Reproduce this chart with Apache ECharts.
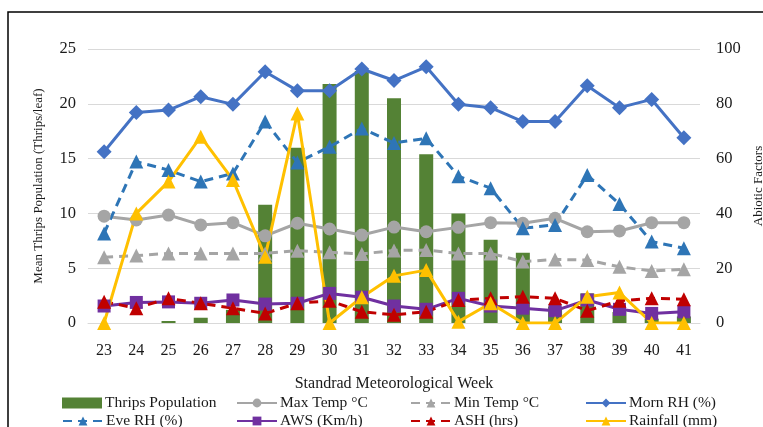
<!DOCTYPE html>
<html><head><meta charset="utf-8">
<script src="https://cdn.jsdelivr.net/npm/echarts@6/dist/echarts.min.js"></script>
<style>html,body{margin:0;padding:0;background:#fff}#c{width:763px;height:427px}</style>
</head><body><div id="c"></div>
<script>
var weeks = ['23','24','25','26','27','28','29','30','31','32','33','34','35','36','37','38','39','40','41'];
var thrips = [0,0,0.18,0.48,1.2,10.8,16.0,21.8,23.0,20.5,15.4,10.0,7.6,6.4,1.5,2.7,1.0,0.4,0.6];
var maxTemp = [39.0,37.6,39.4,35.8,36.6,31.8,36.4,34.3,32.1,35.0,33.3,34.9,36.6,36.4,38.2,33.3,33.6,36.6,36.6];
var minTemp = [24.0,24.6,25.4,25.4,25.4,25.4,26.4,25.8,25.2,26.5,26.6,25.4,25.4,22.4,23.2,23.0,20.5,19.0,19.6];
var mornRH = [62.5,76.8,77.7,82.6,79.8,91.7,84.8,84.8,92.7,88.5,93.5,79.8,78.6,73.5,73.5,86.6,78.6,81.6,67.6];
var eveRH = [32.7,58.9,55.8,51.6,54.6,73.5,58.6,64.3,71.0,65.7,67.4,53.6,49.2,34.6,35.8,54.0,43.4,29.7,27.3];
var aws = [6.2,7.5,7.7,7.2,8.4,6.9,7.2,10.8,9.4,6.2,5.0,9.0,6.2,5.4,4.5,8.4,5.0,3.5,4.1];
var ash = [7.8,5.4,9.0,7.2,5.4,3.5,7.2,8.1,4.1,3.0,4.1,8.4,9.0,9.6,9.0,4.5,8.1,9.0,8.7];
var rainfall = [0,40.0,51.6,68.0,52.2,24.2,76.5,0,9.4,17.2,19.3,0.5,7.2,0,0,9.6,11.1,0,0];
var leftTicks = [0,25,5];
var rightTicks = [0,100,20];

var FF = 'Liberation Serif';
var TXT = '#1a1a1a';
function line(name, data, color, symbol, size, dashed) {
  return {
    name: name, type: 'line', yAxisIndex: 1, data: data,
    symbol: symbol, symbolSize: size,
    lineStyle: {color: color, width: 3, type: dashed ? [9, 6] : 'solid'},
    itemStyle: {color: color},
    animation: false
  };
}
var names = ['Thrips Population','Max Temp °C','Min Temp °C','Morn RH (%)','Eve RH (%)','AWS (Km/h)','ASH (hrs)','Rainfall (mm)'];
var cols = [57, 231, 405, 580];
var legends = names.map(function(n, i){
  var lg = {
    data: [n], left: cols[i % 4], top: i < 4 ? 390 : 408,
    itemWidth: 40, itemHeight: 11, itemGap: 4,
    textStyle: {fontFamily: FF, fontSize: 15.5, color: TXT, padding: [0,0,0,-2]}
  };
  if (i === 0) lg.icon = 'rect';
  return lg;
});
var chart = echarts.init(document.getElementById('c'), null, {renderer: 'canvas'});
chart.setOption({
  backgroundColor: '#fff',
  animation: false,
  legend: legends,
  grid: {left: 88, right: 63, top: 49, bottom: 104, containLabel: false, outerBoundsMode: 'none'},
  graphic: [{type: 'rect', shape: {x: 8, y: 12, width: 800, height: 500}, style: {fill: 'none', stroke: '#000', lineWidth: 1.5}, silent: true}],
  xAxis: {
    type: 'category', data: weeks,
    name: 'Standrad Meteorological Week', nameLocation: 'middle', nameGap: 53,
    nameTextStyle: {fontFamily: FF, fontSize: 16, color: TXT},
    axisLine: {lineStyle: {color: '#d9d9d9', width: 1}},
    axisTick: {show: false},
    axisLabel: {fontFamily: FF, fontSize: 16, color: TXT, margin: 20}
  },
  yAxis: [{
    type: 'value', min: leftTicks[0], max: leftTicks[1], interval: leftTicks[2],
    name: 'Mean Thrips Population (Thrips/leaf)', nameLocation: 'middle', nameGap: 43, nameRotate: 90,
    nameTextStyle: {fontFamily: FF, fontSize: 13, color: TXT},
    axisLine: {show: false}, axisTick: {show: false},
    axisLabel: {fontFamily: FF, fontSize: 16.5, color: TXT, margin: 12},
    splitLine: {lineStyle: {color: '#d9d9d9', width: 1}}
  }, {
    type: 'value', min: rightTicks[0], max: rightTicks[1], interval: rightTicks[2],
    name: 'Abiotic Factors', nameLocation: 'middle', nameGap: 46, nameRotate: 90,
    nameTextStyle: {fontFamily: FF, fontSize: 13, color: TXT},
    axisLine: {show: false}, axisTick: {show: false},
    axisLabel: {fontFamily: FF, fontSize: 16.5, color: TXT, margin: 16},
    splitLine: {show: false}
  }],
  series: [
    {name: 'Thrips Population', type: 'bar', yAxisIndex: 0, data: thrips, barWidth: 14, itemStyle: {color: '#548235'}},
    line('Max Temp °C', maxTemp, '#a5a5a5', 'circle', 13, false),
    line('Min Temp °C', minTemp, '#a5a5a5', 'triangle', 14, true),
    line('Morn RH (%)', mornRH, '#4472c4', 'diamond', 15, false),
    line('Eve RH (%)', eveRH, '#2e75b6', 'triangle', 14, true),
    line('AWS (Km/h)', aws, '#7030a0', 'rect', 13, false),
    line('ASH (hrs)', ash, '#c00000', 'triangle', 14, true),
    line('Rainfall (mm)', rainfall, '#ffc000', 'triangle', 14, false)
  ]
});
</script></body></html>
